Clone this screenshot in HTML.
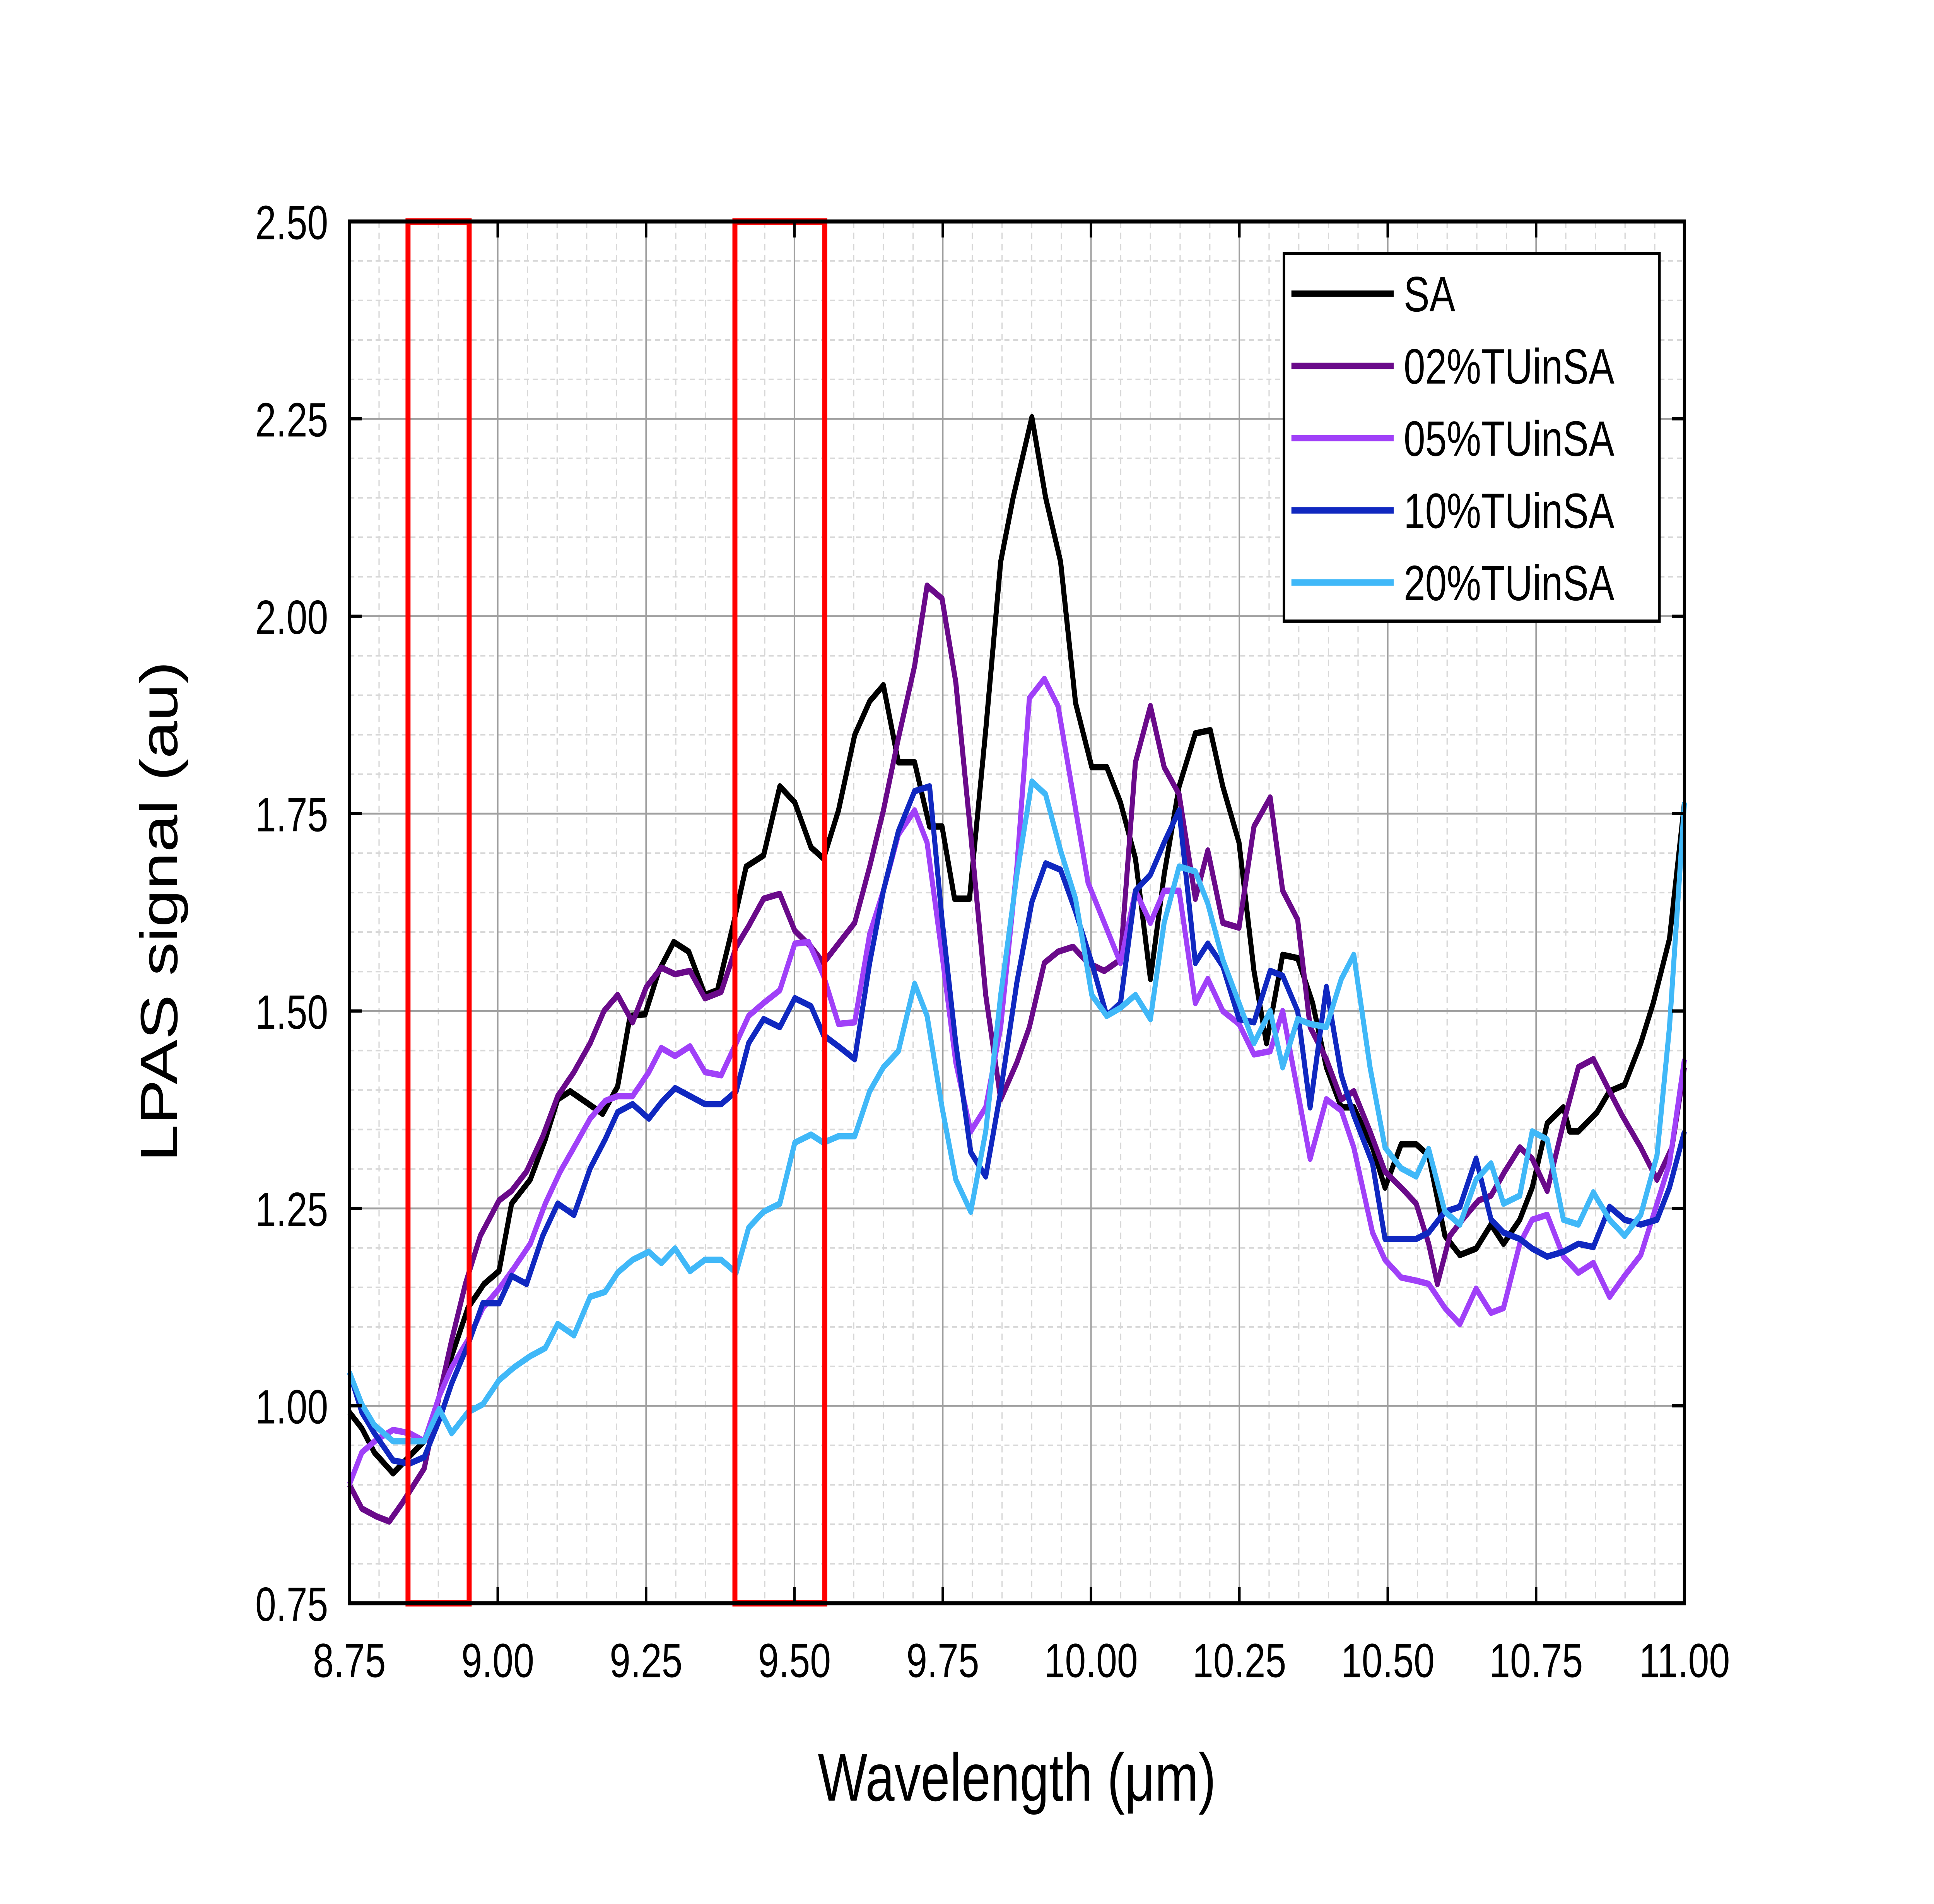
<!DOCTYPE html>
<html><head><meta charset="utf-8"><style>
html,body{margin:0;padding:0;background:#fff;width:100%;height:100%;overflow:hidden;}
svg{display:block;position:fixed;left:0;top:0;width:100vw;height:100vh;}
text{font-family:"Liberation Sans",Arial,sans-serif;fill:#000;}
</style></head><body>
<svg viewBox="0 0 1550 1186.4" preserveAspectRatio="none" xmlns="http://www.w3.org/2000/svg">
<rect width="1550" height="1186.4" fill="#fff"/>
<g id="minor" stroke="#d8d8d8" stroke-width="1" stroke-dasharray="4,3">
<path d="M303.8,138V999M327.6,138V999M351.3,138V999M375.1,138V999M422.7,138V999M446.5,138V999M470.2,138V999M494,138V999M541.6,138V999M565.3,138V999M589.1,138V999M612.9,138V999M660.4,138V999M684.2,138V999M708,138V999M731.8,138V999M779.3,138V999M803.1,138V999M826.9,138V999M850.7,138V999M898.2,138V999M922,138V999M945.8,138V999M969.6,138V999M1017.1,138V999M1040.9,138V999M1064.7,138V999M1088.4,138V999M1136,138V999M1159.8,138V999M1183.6,138V999M1207.3,138V999M1254.9,138V999M1278.7,138V999M1302.4,138V999M1326.2,138V999"/>
<path d="M280,974.4H1350M280,949.8H1350M280,925.2H1350M280,900.6H1350M280,851.4H1350M280,826.8H1350M280,802.2H1350M280,777.6H1350M280,728.4H1350M280,703.8H1350M280,679.2H1350M280,654.6H1350M280,605.4H1350M280,580.8H1350M280,556.2H1350M280,531.6H1350M280,482.4H1350M280,457.8H1350M280,433.2H1350M280,408.6H1350M280,359.4H1350M280,334.8H1350M280,310.2H1350M280,285.6H1350M280,236.4H1350M280,211.8H1350M280,187.2H1350M280,162.6H1350"/>
</g>
<g stroke="#a0a0a0" stroke-width="1.2">
<path d="M398.9,138V999M517.8,138V999M636.7,138V999M755.6,138V999M874.4,138V999M993.3,138V999M1112.2,138V999M1231.1,138V999"/>
<path d="M280,876H1350M280,753H1350M280,630H1350M280,507H1350M280,384H1350M280,261H1350"/>
</g>
<g fill="none" stroke-width="4" stroke-linejoin="round">
<polyline stroke="#000" points="280,880 290,890 300,905 315,918 325,910 340,898 350,875 362,845 375,815 388,800 400,792 410,750 425,735 437,710 447,685 457,680 470,687 483,694 495,677 505,633 517,632 528,605 540,587 552,593 565,620 575,617 588,575 598,540 612,533 625,490 637,500 650,528 660,535 672,505 685,458 697,437 708,427 720,475 733,475 745,515 755,515 765,560 777,560 790,455 802,350 812,310 827,260 838,310 850,350 862,438 875,478 887,478 898,500 910,535 922,610 933,545 945,490 958,457 970,455 980,490 993,525 1005,605 1015,650 1028,595 1040,597 1052,625 1063,665 1075,690 1085,690 1100,715 1110,740 1123,713 1135,713 1145,720 1158,770 1170,782 1183,778 1195,763 1205,775 1218,760 1228,740 1240,700 1253,690 1258,705 1265,705 1280,693 1290,680 1302,676 1315,650 1325,625 1338,585 1350,500"/>
<polyline stroke="#6a0a8a" points="280,925 290,940 302,945 312,948 322,937 340,915 352,870 362,835 373,800 385,770 400,748 410,742 422,730 435,708 447,683 460,668 473,650 484,630 495,620 507,637 518,615 530,603 541,607 553,605 565,622 578,618 590,590 600,577 612,560 625,557 637,580 650,590 660,600 672,588 685,575 697,540 708,505 720,460 733,415 743,365 755,373 766,425 778,520 790,620 802,685 815,662 825,640 837,600 848,593 860,590 872,600 885,605 898,598 910,475 922,440 933,478 945,495 958,560 968,530 980,575 993,578 1005,515 1018,497 1028,555 1040,573 1050,640 1063,660 1075,685 1085,680 1098,705 1110,730 1123,740 1135,750 1145,775 1152,800 1162,770 1172,760 1185,748 1195,745 1206,730 1218,715 1228,722 1240,742 1253,700 1265,665 1277,660 1290,680 1300,695 1315,715 1328,735 1340,715 1350,665"/>
<polyline stroke="#a040f8" points="280,925 290,905 302,897 315,891 328,893 340,898 352,870 362,852 375,835 387,815 400,803 412,790 425,775 437,750 449,730 460,715 473,697 485,686 495,683 507,683 520,668 530,653 541,658 553,652 565,668 578,670 590,650 600,633 612,625 625,617 637,588 648,587 660,608 672,638 685,637 697,582 708,555 720,520 733,505 743,525 755,595 766,662 778,705 790,690 802,640 815,540 825,435 837,423 848,440 860,495 872,550 885,575 898,600 910,555 922,575 933,555 945,555 958,625 968,610 980,630 993,638 1005,657 1018,655 1028,630 1040,680 1050,722 1063,685 1075,692 1085,715 1100,768 1110,785 1123,796 1135,798 1145,800 1158,815 1170,825 1183,803 1195,818 1205,815 1218,775 1228,760 1240,757 1253,783 1265,793 1277,787 1290,808 1302,795 1315,782 1328,750 1338,725 1350,660"/>
<polyline stroke="#1028c0" points="280,855 290,880 300,893 315,910 328,912 340,908 352,885 362,862 375,838 387,812 400,812 410,795 422,800 435,770 447,750 460,757 473,728 485,710 495,693 507,688 520,697 530,687 541,678 553,683 565,688 578,688 590,680 600,650 612,635 625,640 637,622 650,627 660,645 672,652 685,660 697,600 708,555 720,518 733,493 745,490 755,573 766,650 778,718 790,733 802,680 815,612 827,562 838,538 850,542 862,568 875,600 887,633 898,625 910,555 922,545 933,525 945,505 958,600 968,588 980,602 993,635 1005,637 1018,605 1028,608 1040,630 1050,690 1063,615 1075,670 1085,695 1100,725 1110,772 1123,772 1135,772 1145,768 1158,755 1170,752 1183,722 1195,760 1205,768 1218,772 1228,778 1240,783 1253,780 1265,775 1277,777 1290,752 1302,760 1315,763 1328,760 1338,740 1350,705"/>
<polyline stroke="#40b8f8" points="280,855 290,875 300,888 315,898 328,898 340,898 352,878 362,893 375,880 387,875 400,860 412,852 425,845 437,840 447,825 460,832 473,808 485,805 495,793 507,785 520,780 530,787 541,778 553,792 565,785 578,785 590,793 600,765 612,755 625,750 637,712 650,707 660,712 672,708 685,708 697,680 708,665 720,655 733,613 743,633 755,690 766,735 778,755 790,705 802,620 815,545 827,487 838,495 850,530 862,560 875,620 887,633 898,628 910,620 922,635 933,575 945,540 958,543 968,563 980,598 993,625 1005,650 1018,630 1028,665 1040,635 1050,638 1063,640 1075,610 1085,595 1098,665 1110,715 1123,728 1135,733 1145,716 1158,755 1170,763 1183,735 1195,725 1205,750 1218,745 1228,705 1240,710 1253,760 1265,763 1277,743 1290,760 1302,770 1315,757 1328,720 1338,640 1350,500"/>
</g>
<rect x="327" y="138" width="49" height="861" fill="none" stroke="#ff0000" stroke-width="4"/>
<rect x="589" y="138" width="72" height="861" fill="none" stroke="#ff0000" stroke-width="4"/>
<rect x="280" y="138" width="1070" height="861" fill="none" stroke="#000" stroke-width="2.5"/>
<g stroke="#000" stroke-width="2">
<path d="M280,999v-10M398.9,999v-10M517.8,999v-10M636.7,999v-10M755.6,999v-10M874.4,999v-10M993.3,999v-10M1112.2,999v-10M1231.1,999v-10M1350,999v-10"/>
<path d="M280,138v10M398.9,138v10M517.8,138v10M636.7,138v10M755.6,138v10M874.4,138v10M993.3,138v10M1112.2,138v10M1231.1,138v10M1350,138v10"/>
<path d="M280,876h10M280,753h10M280,630h10M280,507h10M280,384h10M280,261h10M1350,876h-10M1350,753h-10M1350,630h-10M1350,507h-10M1350,384h-10M1350,261h-10"/>
</g>
<g font-size="30" text-anchor="middle">
<text x="280" y="1045">8.75</text><text x="398.9" y="1045">9.00</text><text x="517.8" y="1045">9.25</text><text x="636.7" y="1045">9.50</text><text x="755.6" y="1045">9.75</text><text x="874.4" y="1045">10.00</text><text x="993.3" y="1045">10.25</text><text x="1112.2" y="1045">10.50</text><text x="1231.1" y="1045">10.75</text><text x="1350" y="1045">11.00</text>
</g>
<g font-size="30" text-anchor="end">
<text x="263" y="1010">0.75</text><text x="263" y="887">1.00</text><text x="263" y="764">1.25</text><text x="263" y="641">1.50</text><text x="263" y="518">1.75</text><text x="263" y="395">2.00</text><text x="263" y="272">2.25</text><text x="263" y="149">2.50</text>
</g>
<text x="815" y="1122" font-size="42" text-anchor="middle">Wavelength (μm)</text>
<text transform="translate(142,568) rotate(-90)" font-size="42" text-anchor="middle">LPAS signal (au)</text>
<rect x="1029" y="158" width="301" height="229" fill="#fff" stroke="#000" stroke-width="2"/>
<g stroke-width="4">
<line x1="1035" y1="183" x2="1117" y2="183" stroke="#000"/>
<line x1="1035" y1="228" x2="1117" y2="228" stroke="#6a0a8a"/>
<line x1="1035" y1="273" x2="1117" y2="273" stroke="#a040f8"/>
<line x1="1035" y1="318" x2="1117" y2="318" stroke="#1028c0"/>
<line x1="1035" y1="363" x2="1117" y2="363" stroke="#40b8f8"/>
</g>
<g font-size="31">
<text x="1125" y="194">SA</text><text x="1125" y="239">02%TUinSA</text><text x="1125" y="284">05%TUinSA</text><text x="1125" y="329">10%TUinSA</text><text x="1125" y="374">20%TUinSA</text>
</g>
</svg>
</body></html>
